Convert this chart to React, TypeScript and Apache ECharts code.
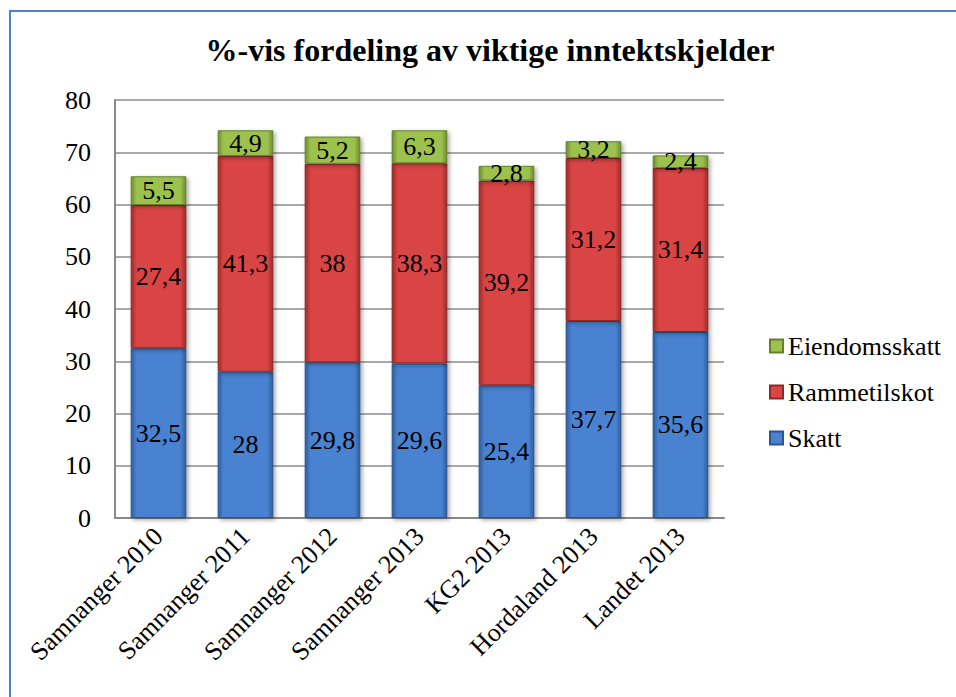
import React, { useEffect, useRef } from "react";
import * as echarts from "echarts";

const categories = ["Samnanger 2010", "Samnanger 2011", "Samnanger 2012", "Samnanger 2013", "KG2 2013", "Hordaland 2013", "Landet 2013"];
const skatt = [32.5, 28, 29.8, 29.6, 25.4, 37.7, 35.6];
const rammetilskot = [27.4, 41.3, 38, 38.3, 39.2, 31.2, 31.4];
const eiendomsskatt = [5.5, 4.9, 5.2, 6.3, 2.8, 3.2, 2.4];
const legendOrder = ["Eiendomsskatt", "Rammetilskot", "Skatt"];
const titleText = "%-vis fordeling av viktige inntektskjelder";

const FONT = "Times New Roman";

function grad(dark: string, light: string) {
  return new echarts.graphic.LinearGradient(0, 0, 1, 0, [
    { offset: 0, color: dark },
    { offset: 0.1, color: light },
    { offset: 0.9, color: light },
    { offset: 1, color: dark },
  ]);
}

export default function App() {
  const ref = useRef<HTMLDivElement>(null);
  useEffect(() => {
    if (!ref.current) return;
    const chart = echarts.init(ref.current, null, { renderer: "svg" });
    const fmt = (p: any) => String(p.value).replace(".", ",");
    const label = {
      show: true,
      position: "inside",
      color: "#000",
      fontFamily: FONT,
      fontSize: 26,
      formatter: fmt,
    };
    const shadow = { shadowColor: "rgba(0,0,0,0.35)", shadowBlur: 4, shadowOffsetX: 2, shadowOffsetY: 2 };
    chart.setOption({
      animation: false,
      graphic: [
        {
          type: "text",
          x: 490,
          y: 50,
          silent: true,
          style: {
            text: titleText,
            fontFamily: FONT,
            fontWeight: "bold",
            fontSize: 32,
            fill: "#000",
            textAlign: "center",
            textVerticalAlign: "middle",
          },
        },
      ],
      legend: {
        orient: "vertical",
        left: 764,
        top: 328,
        itemGap: 20,
        itemWidth: 13,
        itemHeight: 13,
        icon: "rect",
        data: legendOrder,
        textStyle: { fontFamily: FONT, fontSize: 26, color: "#000" },
      },
      grid: { left: 115, top: 100, right: 232, bottom: 179 },
      xAxis: {
        type: "category",
        data: categories,
        axisLine: { lineStyle: { color: "#888", width: 2 } },
        axisTick: { show: false },
        axisLabel: {
          rotate: 45,
          interval: 0,
          fontFamily: FONT,
          fontSize: 26,
          color: "#000",
          margin: 14,
        },
      },
      yAxis: {
        type: "value",
        min: 0,
        max: 80,
        interval: 10,
        axisLine: { show: true, lineStyle: { color: "#888", width: 2 } },
        axisTick: { show: false },
        splitLine: { lineStyle: { color: "#8c8c8c", width: 1.5 } },
        axisLabel: {
          fontFamily: FONT,
          fontSize: 26,
          color: "#000",
          margin: 24,
        },
      },
      series: [
        {
          name: "Skatt",
          type: "bar",
          stack: "a",
          barWidth: "64%",
          data: skatt,
          itemStyle: { color: grad("#2F5E9E", "#4A82D0"), borderColor: "#2A5590", borderWidth: 1, ...shadow },
          label,
        },
        {
          name: "Rammetilskot",
          type: "bar",
          stack: "a",
          data: rammetilskot,
          itemStyle: { color: grad("#9E2B2A", "#D94444"), borderColor: "#8E2826", borderWidth: 1, ...shadow },
          label,
        },
        {
          name: "Eiendomsskatt",
          type: "bar",
          stack: "a",
          data: eiendomsskatt,
          itemStyle: { color: grad("#6E8C2E", "#9CC24E"), borderColor: "#64802A", borderWidth: 1, ...shadow },
          label,
        },
      ],
    });
    return () => chart.dispose();
  }, []);
  return (
    <div style={{ position: "absolute", left: 0, top: 0, width: 956, height: 697, overflow: "hidden" }}>
      <div ref={ref} style={{ width: 956, height: 697 }} />
      <div
        style={{
          position: "absolute",
          left: 9,
          top: 10,
          width: 945,
          height: 685,
          borderTop: "2px solid #4F81BD",
          borderLeft: "2px solid #4F81BD",
          pointerEvents: "none",
        }}
      />
    </div>
  );
}
